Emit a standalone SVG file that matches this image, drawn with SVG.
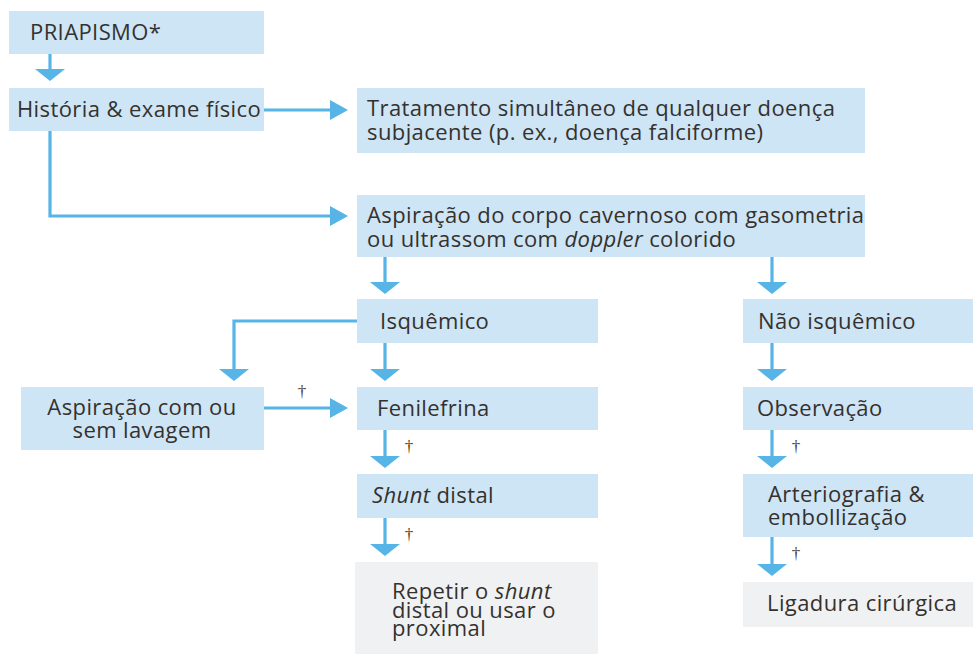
<svg xmlns="http://www.w3.org/2000/svg" width="973" height="654" viewBox="0 0 973 654">
<style>
  .box { fill: #cde5f5; }
  .gbox { fill: #f0f1f3; }
  .t { font-family: "Open Sans", "Noto Sans", "Liberation Sans", sans-serif; font-size: 22px; letter-spacing: 0.4px; fill: #35312e; }
  .i { font-style: italic; }
  .ln { fill: none; stroke: #56b4e6; stroke-width: 3.2; }
  .hd { fill: #56b4e6; }
  .dg { font-family: "Liberation Serif", "DejaVu Serif", serif; font-size: 17px; fill: #4a3528; }
</style>
<rect width="973" height="654" fill="#ffffff"/>

<g id="connectors">
  <path class="ln" d="M50 54 V70"/>
  <polygon class="hd" points="35,69 65,69 50,81"/>

  <path class="ln" d="M264 110 H332"/>
  <polygon class="hd" points="330,100 348,110 330,120"/>

  <path class="ln" d="M50 131 V216 H332"/>
  <polygon class="hd" points="330,206 348,216 330,226"/>

  <path class="ln" d="M385 257 V284"/>
  <polygon class="hd" points="370,282 400,282 385,294"/>

  <path class="ln" d="M772 257 V284"/>
  <polygon class="hd" points="757,282 787,282 772,294"/>

  <path class="ln" d="M357 321 H234 V371"/>
  <polygon class="hd" points="219,369 249,369 234,381"/>

  <path class="ln" d="M385 343 V371"/>
  <polygon class="hd" points="370,369 400,369 385,381"/>

  <path class="ln" d="M264 408 H332"/>
  <polygon class="hd" points="330,398 348,408 330,418"/>

  <path class="ln" d="M385 430 V458"/>
  <polygon class="hd" points="370,456 400,456 385,468"/>

  <path class="ln" d="M385 518 V546"/>
  <polygon class="hd" points="370,544 400,544 385,556"/>

  <path class="ln" d="M772 343 V371"/>
  <polygon class="hd" points="757,369 787,369 772,381"/>

  <path class="ln" d="M772 430 V458"/>
  <polygon class="hd" points="757,456 787,456 772,468"/>

  <path class="ln" d="M772 537 V566"/>
  <polygon class="hd" points="757,564 787,564 772,576"/>

  <text class="dg" x="302" y="397" text-anchor="middle">†</text>
  <text class="dg" x="409" y="452" text-anchor="middle">†</text>
  <text class="dg" x="409" y="540" text-anchor="middle">†</text>
  <text class="dg" x="796" y="452" text-anchor="middle">†</text>
  <text class="dg" x="796" y="559" text-anchor="middle">†</text>
</g>

<g id="priapismo">
  <rect class="box" x="9" y="11" width="255" height="43"/>
  <text class="t" x="30" y="40">PRIAPISMO*</text>
</g>

<g id="historia">
  <rect class="box" x="9" y="88" width="255" height="43"/>
  <text class="t" x="17" y="117">História &amp; exame físico</text>
</g>

<g id="tratamento">
  <rect class="box" x="357" y="88" width="508" height="65"/>
  <text class="t" x="367" y="116">Tratamento simultâneo de qualquer doença</text>
  <text class="t" x="367" y="140">subjacente (p. ex., doença falciforme)</text>
</g>

<g id="aspiracao-corpo">
  <rect class="box" x="357" y="195" width="508" height="62"/>
  <text class="t" x="367" y="223">Aspiração do corpo cavernoso com gasometria</text>
  <text class="t" x="367" y="247">ou ultrassom com <tspan class="i">doppler</tspan> colorido</text>
</g>

<g id="isquemico">
  <rect class="box" x="357" y="299" width="241" height="44"/>
  <text class="t" x="380" y="329">Isquêmico</text>
</g>

<g id="nao-isquemico">
  <rect class="box" x="743" y="299" width="230" height="44"/>
  <text class="t" x="758" y="329">Não isquêmico</text>
</g>

<g id="aspiracao-lavagem">
  <rect class="box" x="21" y="387" width="243" height="63"/>
  <text class="t" x="142" y="415" text-anchor="middle">Aspiração com ou</text>
  <text class="t" x="142" y="438" text-anchor="middle">sem lavagem</text>
</g>

<g id="fenilefrina">
  <rect class="box" x="357" y="387" width="241" height="43"/>
  <text class="t" x="377" y="416">Fenilefrina</text>
</g>

<g id="shunt-distal">
  <rect class="box" x="357" y="474" width="241" height="44"/>
  <text class="t" x="372" y="503"><tspan class="i">Shunt</tspan> distal</text>
</g>

<g id="repetir">
  <rect class="gbox" x="355" y="562" width="243" height="92"/>
  <text class="t" x="392" y="599">Repetir o <tspan class="i">shunt</tspan></text>
  <text class="t" x="392" y="618">distal ou usar o</text>
  <text class="t" x="392" y="636">proximal</text>
</g>

<g id="observacao">
  <rect class="box" x="743" y="387" width="230" height="43"/>
  <text class="t" x="757" y="416">Observação</text>
</g>

<g id="arteriografia">
  <rect class="box" x="743" y="474" width="230" height="63"/>
  <text class="t" x="768" y="502">Arteriografia &amp;</text>
  <text class="t" x="768" y="525">embollização</text>
</g>

<g id="ligadura">
  <rect class="gbox" x="743" y="582" width="230" height="45"/>
  <text class="t" x="767" y="611">Ligadura cirúrgica</text>
</g>
</svg>
